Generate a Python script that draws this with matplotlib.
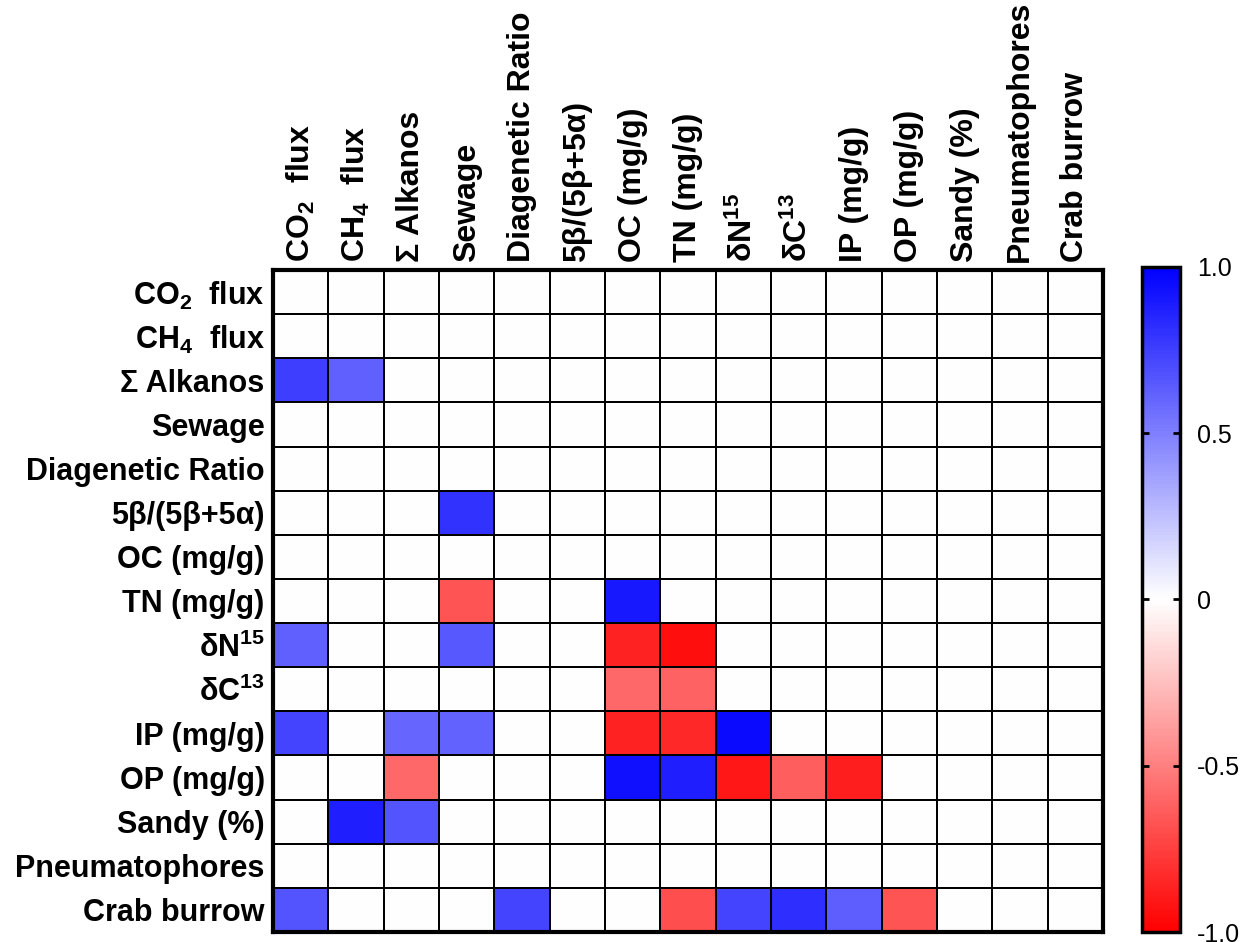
import numpy as np
import matplotlib
matplotlib.use("Agg")
import matplotlib.pyplot as plt

plt.rcParams['font.family'] = ['Liberation Sans', 'DejaVu Sans']
plt.rcParams['mathtext.fontset'] = 'custom'
plt.rcParams['mathtext.rm'] = 'Liberation Sans:bold'
plt.rcParams['mathtext.bf'] = 'Liberation Sans:bold'
plt.rcParams['mathtext.it'] = 'Liberation Sans:bold'
plt.rcParams['mathtext.default'] = 'rm'

labels = ['CO$_2$  flux', 'CH$_4$  flux', 'Σ Alkanos', 'Sewage', 'Diagenetic Ratio',
          '5β/(5β+5α)', 'OC (mg/g)', 'TN (mg/g)', 'δN$^{15}$', 'δC$^{13}$',
          'IP (mg/g)', 'OP (mg/g)', 'Sandy (%)', 'Pneumatophores', 'Crab burrow']

# significant Spearman correlations only, 0 = not significant
r_co2 = [0] * 15
r_ch4 = [0] * 15
r_alk = [0.75, 0.62, 0, 0, 0, 0, 0, 0, 0, 0, 0, 0, 0, 0, 0]
r_sew = [0] * 15
r_diag = [0] * 15
r_5b = [0, 0, 0, 0.80, 0, 0, 0, 0, 0, 0, 0, 0, 0, 0, 0]
r_oc = [0] * 15
r_tn = [0, 0, 0, -0.67, 0, 0, 0.90, 0, 0, 0, 0, 0, 0, 0, 0]
r_dn = [0.62, 0, 0, 0.65, 0, 0, -0.86, -0.94, 0, 0, 0, 0, 0, 0, 0]
r_dc = [0, 0, 0, 0, 0, 0, -0.59, -0.61, 0, 0, 0, 0, 0, 0, 0]
r_ip = [0.73, 0, 0.60, 0.61, 0, 0, -0.86, -0.84, 0.96, 0, 0, 0, 0, 0, 0]
r_op = [0, 0, -0.59, 0, 0, 0, 0.93, 0.88, -0.91, -0.63, -0.88, 0, 0, 0, 0]
r_sand = [0, 0.88, 0.67, 0, 0, 0, 0, 0, 0, 0, 0, 0, 0, 0, 0]
r_pneu = [0] * 15
r_crab = [0.67, 0, 0, 0, 0.73, 0, 0, -0.69, 0.73, 0.82, 0.63, -0.67, 0, 0, 0]

corr = np.array([r_co2, r_ch4, r_alk, r_sew, r_diag, r_5b, r_oc, r_tn, r_dn,
                 r_dc, r_ip, r_op, r_sand, r_pneu, r_crab])

fig = plt.figure(figsize=(12.4, 9.42), dpi=100)
ax = fig.add_axes([0.2202, 0.0106, 0.6694, 0.7028])
mesh = ax.pcolormesh(corr, cmap='bwr_r', vmin=-1, vmax=1,
                     edgecolors='black', linewidth=1.2)
ax.set_xlim(0, 15)
ax.set_ylim(15, 0)
ax.xaxis.tick_top()
ax.set_xticks(np.arange(15) + 0.5)
ax.set_yticks(np.arange(15) + 0.5)
ax.set_xticklabels(labels, rotation=90, fontsize=23, fontweight='bold')
ax.set_yticklabels(labels, fontsize=22, fontweight='bold')
ax.tick_params(length=0, pad=6)
for s in ax.spines.values():
    s.set_linewidth(3)

cax = fig.add_axes([0.921, 0.0106, 0.0306, 0.706])
cb = fig.colorbar(mesh, cax=cax)
cb.set_ticks([-1, -0.5, 0, 0.5, 1])
cb.set_ticklabels(['-1.0', '-0.5', '0', '0.5', '1.0'])
cb.ax.tick_params(direction='in', left=True, right=True, length=5, width=2,
                  labelsize=18, pad=12)
cb.outline.set_linewidth(2.5)

fig.savefig('out.png', dpi=100)
